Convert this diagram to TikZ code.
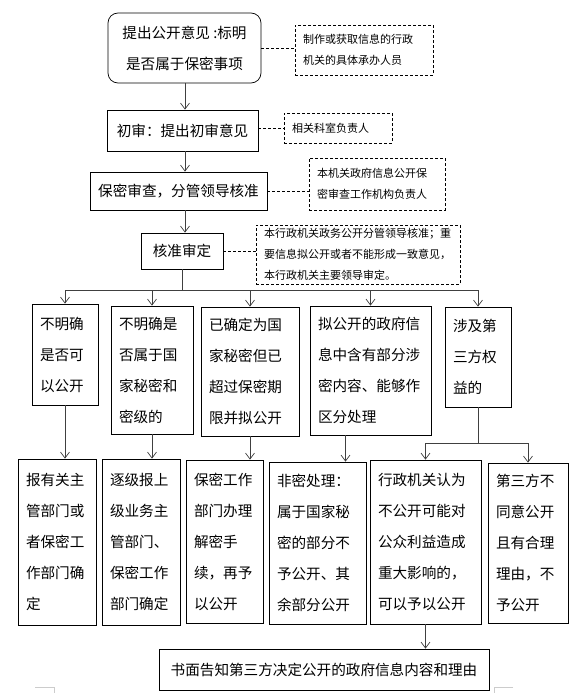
\documentclass[tikz,border=0pt]{standalone}
\usepackage{fontspec}
\setmainfont{Noto Sans CJK SC}
\usetikzlibrary{arrows.meta,positioning,calc}

\newcommand{\stepfont}{\fontsize{14.6pt}{31pt}\selectfont}
\newcommand{\notefont}{\fontsize{11pt}{21pt}\selectfont}

\begin{document}
\begin{tikzpicture}[
    x=1pt, y=-1pt,
    stepbox/.style={draw, line width=0.7pt, align=left, inner xsep=8pt, inner ysep=0pt, font=\stepfont},
    notebox/.style={draw, line width=0.7pt, dash pattern=on 3pt off 2pt, align=left, inner xsep=8pt, inner ysep=0pt, font=\notefont},
    link/.style={line width=0.7pt, dash pattern=on 3pt off 2pt},
    arrow/.style={-{Straight Barb[length=6pt,width=9pt]}, line width=0.7pt, black!75},
    wire/.style={line width=0.7pt, black!75}
]
\useasboundingbox (0,0) rectangle (585,693);

% main chain
\node[stepbox, rounded corners=10pt, align=center, minimum width=153pt, minimum height=70pt] (propose) at (184.5,48) {提出公开意见 :标明\\是否属于保密事项};
\node[stepbox, align=center, minimum width=151pt, minimum height=41pt] (first) at (182.5,130.5) {初审：提出初审意见};
\node[stepbox, align=center, minimum width=177pt, minimum height=38pt] (check) at (178.5,191) {保密审查，分管领导核准};
\node[stepbox, align=center, minimum width=82pt, minimum height=36pt] (approve) at (182,251) {核准审定};

% who is in charge
\node[notebox, text width=122pt, minimum height=50pt] (who1) at (364,50) {制作或获取信息的行政\\机关的具体承办人员};
\node[notebox, text width=92pt, minimum height=30pt] (who2) at (338,128) {相关科室负责人};
\node[notebox, text width=120pt, minimum height=52pt] (who3) at (377,184) {本机关政府信息公开保\\密审查工作机构负责人};
\node[notebox, text width=188pt, minimum height=59pt] (who4) at (358,254.5) {本行政机关政务公开分管领导核准；重\\要信息拟公开或者不能形成一致意见，\\本行政机关主要领导审定。};

\draw[link] (propose.east) -- (propose.east -| who1.west);
\draw[link] (who2.west -| first.east) -- (who2.west);
\draw[link] (check.east) -- (check.east -| who3.west);
\draw[link] (approve.east) -- (approve.east -| who4.west);

\coordinate (spine) at (185,0);
\draw[arrow] (propose.south -| spine) -- (first.north -| spine);
\draw[arrow] (first.south -| spine) -- (check.north -| spine);
\draw[arrow] (check.south -| spine) -- (approve.north -| spine);

% cases
\node[stepbox, text width=50pt, minimum height=101pt] (r1) at (65,354.5) {不明确\\是否可\\以公开};
\node[stepbox, text width=66pt, minimum height=128pt] (r2) at (152,370) {不明确是\\否属于国\\家秘密和\\密级的};
\node[stepbox, text width=82pt, minimum height=129pt] (r3) at (250,371.5) {已确定为国\\家秘密但已\\超过保密期\\限并拟公开};
\node[stepbox, text width=105pt, minimum height=129pt] (r4) at (370.5,370.5) {拟公开的政府信\\息中含有部分涉\\密内容、能够作\\区分处理};
\node[stepbox, text width=50pt, minimum height=100pt] (r5) at (478,357) {涉及第\\三方权\\益的};

% handling
\node[stepbox, text width=62pt, minimum height=166pt] (s1) at (57,542) {报有关主\\管部门或\\者保密工\\作部门确\\定};
\node[stepbox, text width=62pt, minimum height=166pt] (s2) at (141,542) {逐级报上\\级业务主\\管部门、\\保密工作\\部门确定};
\node[stepbox, text width=61pt, minimum height=163pt] (s3) at (224.5,541.5) {保密工作\\部门办理\\解密手\\续，再予\\以公开};
\node[stepbox, text width=81pt, minimum height=162pt] (s4) at (317.5,543) {非密处理：\\属于国家秘\\密的部分不\\予公开、其\\余部分公开};
\node[stepbox, text width=95pt, minimum height=164pt] (s5) at (425.5,542) {行政机关认为\\不公开可能对\\公众利益造成\\重大影响的，\\可以予以公开};
\node[stepbox, text width=64pt, minimum height=160pt] (s6) at (528,543) {第三方不\\同意公开\\且有合理\\理由，不\\予公开};

\node[stepbox, align=center, minimum width=330pt, minimum height=41pt] (notify) at (324,669.5) {书面告知第三方决定公开的政府信息内容和理由};

% connectors
\coordinate (split) at (182,290);
\draw[wire] (approve.south) -- (split);
\draw[wire] (r1.north |- split) -- (r5.north |- split);
\foreach \n in {r1,r2,r3,r4,r5}
    \draw[arrow] (\n.north |- split) -- (\n.north);

\draw[arrow] (r1.south) -- (r1.south |- s1.north);
\draw[arrow] (r2.south) -- (r2.south |- s2.north);
\draw[arrow] (r3.south) -- (r3.south |- s3.north);
\coordinate (r4out) at ([xshift=-25pt]r4.south);
\draw[arrow] (r4out) -- (r4out |- s4.north);

\coordinate (fork) at ($(r5.south)+(0,36)$);
\draw[wire] (r5.south) -- (fork);
\draw[wire] (s5.north |- fork) -- (s6.north |- fork);
\draw[arrow] (s5.north |- fork) -- (s5.north);
\draw[arrow] (s6.north |- fork) -- (s6.north);
\draw[arrow] (s5.south) -- (s5.south |- notify.north);

% page corner marks
\draw[gray!40, line width=0.6pt] (35,687) -- (54,687) -- (54,693);
\draw[gray!40, line width=0.6pt] (513,687) -- (494,687) -- (494,693);
\end{tikzpicture}
\end{document}
